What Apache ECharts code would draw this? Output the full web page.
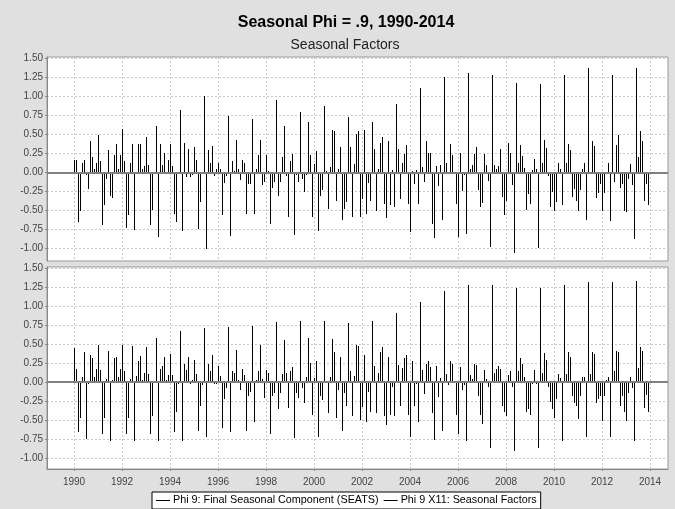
<!DOCTYPE html>
<html>
<head>
<meta charset="utf-8">
<script src="https://cdn.jsdelivr.net/npm/echarts@6/dist/echarts.min.js"></script>
<style>
  html, body { margin: 0; padding: 0; background: #e0e0e0; }
  #chart { width: 675px; height: 509px; }
</style>
</head>
<body>
<div id="chart"></div>
<script>
// monthly seasonal factors, Jan 1990 .. Dec 2013, one row per year
var startYear = 1990;
var yearTicks = [1990, 1992, 1994, 1996, 1998, 2000, 2002, 2004, 2006, 2008, 2010, 2012, 2014];
var valueTicks = [-1.00, -0.75, -0.50, -0.25, 0.00, 0.25, 0.50, 0.75, 1.00, 1.25, 1.50];
var seriesNames = ['Phi 9: Final Seasonal Component (SEATS)', 'Phi 9 X11: Seasonal Factors'];

var seatsValues = [
  0.16, 0.16, -0.65, -0.50, 0.12, 0.16, -0.03, -0.22, 0.41, 0.21, 0.04, 0.13,
  0.49, 0.15, -0.69, -0.43, -0.09, 0.30, -0.31, -0.34, 0.23, 0.37, 0.05, 0.23,
  0.57, 0.15, -0.73, -0.56, 0.13, 0.37, -0.76, -0.02, 0.38, 0.38, 0.05, 0.08,
  0.47, 0.10, -0.69, -0.49, -0.02, 0.61, -0.85, 0.37, 0.10, 0.26, -0.02, 0.16,
  0.38, 0.09, -0.54, -0.65, 0.01, 0.82, -0.77, 0.39, -0.06, 0.31, -0.06, -0.03,
  0.34, 0.17, -0.74, -0.39, -0.02, 1.01, -1.00, 0.30, 0.13, 0.35, -0.05, 0.04,
  0.13, 0.05, -0.56, -0.14, -0.04, 0.75, -0.83, 0.15, 0.02, 0.43, 0.05, -0.10,
  0.17, 0.13, -0.55, -0.15, -0.15, 0.70, -0.55, 0.04, 0.23, 0.43, -0.16, -0.13,
  0.23, 0.02, -0.68, -0.20, -0.13, 0.96, -0.31, -0.13, 0.20, 0.61, -0.05, -0.58,
  0.15, 0.24, -0.82, -0.03, -0.13, 0.80, -0.09, -0.26, -0.03, 0.66, 0.23, -0.58,
  0.11, 0.28, -0.77, -0.31, -0.23, 0.87, 0.02, -0.48, 0.07, 0.56, 0.54, -0.38,
  0.04, 0.34, -0.62, -0.48, -0.39, 0.73, 0.33, -0.59, 0.11, 0.51, 0.54, -0.58,
  -0.35, 0.56, -0.55, -0.14, -0.37, 0.67, 0.31, -0.51, 0.04, 0.39, 0.47, -0.41,
  -0.60, 0.41, -0.43, 0.03, -0.45, 0.90, 0.31, -0.35, 0.12, 0.25, 0.36, -0.41,
  -0.78, 0.02, -0.15, 0.03, -0.41, 1.11, 0.07, -0.13, 0.42, 0.26, 0.26, -0.68,
  -0.86, 0.08, -0.18, 0.10, -0.62, 1.26, 0.12, 0.01, 0.38, 0.23, -0.02, -0.41,
  -0.85, 0.26, -0.24, -0.03, -0.81, 1.31, 0.05, 0.10, 0.24, 0.33, -0.23, -0.46,
  -0.40, 0.24, 0.10, -0.11, -0.98, 1.28, 0.10, 0.04, 0.08, 0.31, -0.32, -0.56,
  -0.38, 0.39, 0.26, -0.17, -1.06, 1.18, 0.13, 0.36, 0.22, 0.06, -0.49, -0.28,
  -0.41, 0.03, 0.18, 0.05, -0.99, 1.17, 0.12, 0.43, 0.32, -0.04, -0.45, -0.25,
  -0.50, -0.39, 0.13, 0.05, -0.43, 1.28, 0.12, 0.37, 0.29, -0.32, -0.22, -0.38,
  -0.50, -0.23, 0.04, 0.13, -0.62, 1.37, 0.01, 0.41, 0.35, -0.33, -0.27, -0.15,
  -0.50, -0.27, -0.02, 0.13, -0.64, 1.28, -0.13, 0.36, 0.50, -0.20, -0.15, -0.51,
  -0.52, -0.08, 0.11, -0.17, -0.87, 1.37, 0.21, 0.54, 0.41, -0.38, -0.15, -0.43
];

var x11Values = [
  0.45, 0.17, -0.66, -0.47, 0.06, 0.40, -0.75, -0.03, 0.35, 0.32, 0.06, 0.17,
  0.49, 0.16, -0.68, -0.47, 0.04, 0.41, -0.77, 0.03, 0.32, 0.33, 0.06, 0.17,
  0.49, 0.14, -0.69, -0.48, 0.04, 0.48, -0.78, 0.08, 0.28, 0.34, 0.03, 0.12,
  0.46, 0.11, -0.69, -0.45, 0.01, 0.58, -0.78, 0.17, 0.21, 0.33, 0.02, 0.09,
  0.37, 0.09, -0.66, -0.40, -0.02, 0.67, -0.77, 0.24, 0.16, 0.33, -0.03, 0.03,
  0.29, 0.11, -0.64, -0.31, -0.04, 0.71, -0.73, 0.24, 0.14, 0.36, -0.02, -0.02,
  0.21, 0.08, -0.61, -0.23, -0.08, 0.72, -0.66, 0.15, 0.12, 0.42, 0.02, -0.10,
  0.17, 0.09, -0.64, -0.18, -0.13, 0.74, -0.52, 0.02, 0.14, 0.49, 0.04, -0.21,
  0.16, 0.12, -0.69, -0.18, -0.15, 0.79, -0.35, -0.15, 0.10, 0.55, 0.12, -0.34,
  0.14, 0.20, -0.74, -0.15, -0.21, 0.80, -0.08, -0.28, 0.07, 0.58, 0.25, -0.44,
  0.05, 0.27, -0.72, -0.18, -0.24, 0.80, 0.01, -0.41, 0.06, 0.56, 0.40, -0.48,
  -0.11, 0.33, -0.65, -0.15, -0.32, 0.78, 0.14, -0.45, 0.08, 0.49, 0.48, -0.50,
  -0.33, 0.36, -0.53, -0.13, -0.39, 0.80, 0.21, -0.41, 0.12, 0.40, 0.46, -0.45,
  -0.56, 0.33, -0.43, -0.06, -0.45, 0.91, 0.23, -0.31, 0.19, 0.32, 0.36, -0.43,
  -0.73, 0.28, -0.31, -0.03, -0.53, 1.05, 0.16, -0.16, 0.24, 0.27, 0.20, -0.41,
  -0.76, 0.21, -0.20, 0.05, -0.65, 1.20, 0.10, -0.04, 0.27, 0.24, 0.01, -0.43,
  -0.69, 0.20, -0.10, -0.04, -0.77, 1.28, 0.09, 0.04, 0.24, 0.23, -0.19, -0.43,
  -0.55, 0.16, 0.04, -0.06, -0.87, 1.28, 0.12, 0.17, 0.21, 0.17, -0.32, -0.39,
  -0.45, 0.09, 0.14, -0.07, -0.91, 1.24, 0.14, 0.31, 0.24, 0.07, -0.39, -0.35,
  -0.44, -0.02, 0.16, -0.02, -0.87, 1.24, 0.12, 0.38, 0.29, -0.07, -0.26, -0.35,
  -0.48, -0.22, 0.10, 0.05, -0.78, 1.27, 0.10, 0.40, 0.33, -0.19, -0.28, -0.32,
  -0.49, -0.18, 0.07, 0.07, -0.73, 1.32, 0.10, 0.40, 0.37, -0.27, -0.23, -0.18,
  -0.51, -0.18, 0.02, 0.06, -0.73, 1.32, 0.14, 0.41, 0.40, -0.31, -0.18, -0.39,
  -0.51, -0.14, 0.06, -0.08, -0.77, 1.33, 0.19, 0.46, 0.41, -0.34, -0.17, -0.40
];

function toPoints(vals) {
  return vals.map(function (v, k) { return [startYear + k / 12, v]; });
}

// thin crisp spike from 0 to the value
function renderSpike(params, api) {
  var tip = api.coord([api.value(0), api.value(1)]);
  var base = api.coord([api.value(0), 0]);
  var y0 = Math.round(Math.min(tip[1], base[1]));
  var y1 = Math.round(Math.max(tip[1], base[1]));
  return {
    type: 'rect',
    shape: { x: Math.round(tip[0]), y: y0, width: 1, height: Math.max(1, y1 - y0) },
    style: { fill: '#000' }
  };
}

var font = 'Liberation Sans, Arial, sans-serif';
var gridLine = { show: true, lineStyle: { color: '#c8c8c8', width: 1, type: [2, 2] } };
var zeroLine = {
  silent: true, symbol: 'none', label: { show: false },
  lineStyle: { color: '#808080', width: 2, type: 'solid' },
  data: [{ yAxis: 0 }]
};

function yAxisFor(idx, min, max) {
  return {
    type: 'value', gridIndex: idx, min: min, max: max,
    axisLine: { show: true, lineStyle: { color: '#888' } },
    axisTick: { show: true, length: 2, customValues: valueTicks, lineStyle: { color: '#888' } },
    axisLabel: { customValues: valueTicks, fontSize: 10, fontFamily: font, color: '#444', margin: 4,
      formatter: function (v) { return v.toFixed(2); } },
    splitLine: gridLine
  };
}

function xAxisFor(idx, labels) {
  return {
    type: 'value', gridIndex: idx, min: 1988.875, max: 2014.75,
    axisLine: { show: labels, onZero: false, lineStyle: { color: '#888' } },
    axisTick: { show: labels, length: 2, customValues: yearTicks, lineStyle: { color: '#888' } },
    axisLabel: { show: labels, customValues: yearTicks, fontSize: 10, fontFamily: font, color: '#444', margin: 8,
      formatter: function (v) { return String(v); } },
    splitLine: gridLine
  };
}

var chart = echarts.init(document.getElementById('chart'));
chart.setOption({
  animation: false,
  backgroundColor: '#e0e0e0',
  graphic: [
    { type: 'text', x: 346, y: 23, silent: true,
      style: { text: 'Seasonal Phi = .9, 1990-2014', align: 'center', verticalAlign: 'middle',
        font: 'bold 16px ' + font, fill: '#000' } },
    { type: 'text', x: 345, y: 45, silent: true,
      style: { text: 'Seasonal Factors', align: 'center', verticalAlign: 'middle',
        font: '14px ' + font, fill: '#222' } }
  ],
  legend: {
    left: 152, top: 492, padding: [3, 4, 3, 4], itemGap: 5, itemWidth: 14, itemHeight: 1,
    icon: 'rect', borderColor: '#000', borderWidth: 1, backgroundColor: '#fff',
    textStyle: { fontSize: 10.8, fontFamily: font, color: '#000', padding: [0, 0, 0, -2] },
    data: seriesNames
  },
  grid: [
    { left: 47, top: 57, width: 621, height: 204, show: true, backgroundColor: '#fff', borderColor: '#999', borderWidth: 1 },
    { left: 47, top: 267, width: 621, height: 202, show: true, backgroundColor: '#fff', borderColor: '#999', borderWidth: 1 }
  ],
  xAxis: [xAxisFor(0, false), xAxisFor(1, true)],
  yAxis: [yAxisFor(0, -1.164, 1.52), yAxisFor(1, -1.145, 1.513)],
  series: [
    { name: seriesNames[0], type: 'custom', xAxisIndex: 0, yAxisIndex: 0, renderItem: renderSpike,
      encode: { x: 0, y: 1 }, itemStyle: { color: '#000' }, data: toPoints(seatsValues), markLine: zeroLine },
    { name: seriesNames[1], type: 'custom', xAxisIndex: 1, yAxisIndex: 1, renderItem: renderSpike,
      encode: { x: 0, y: 1 }, itemStyle: { color: '#000' }, data: toPoints(x11Values), markLine: zeroLine }
  ]
});
</script>
</body>
</html>
